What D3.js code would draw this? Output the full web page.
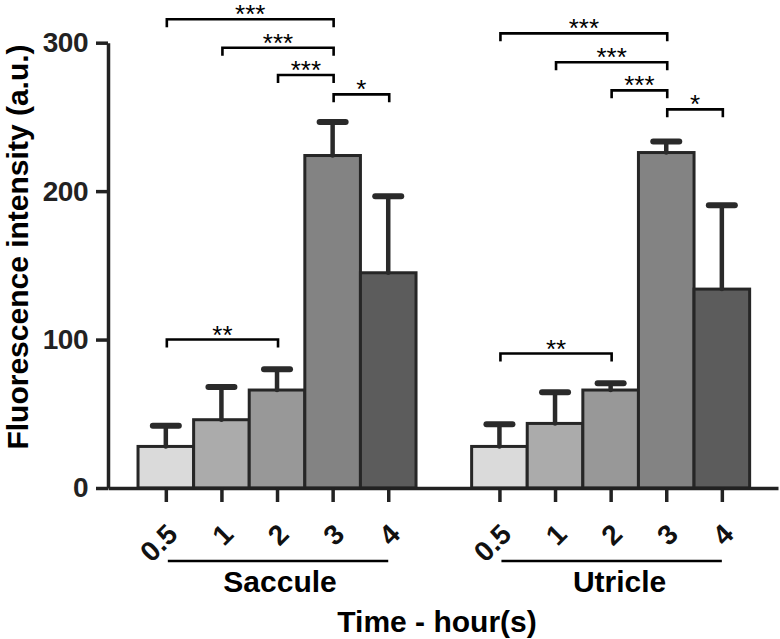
<!DOCTYPE html>
<html>
<head>
<meta charset="utf-8">
<script src="https://cdn.jsdelivr.net/npm/d3@7"></script>
<style>
  body { margin: 0; background: #fff; }
  text { font-family: 'Liberation Sans', Arial, sans-serif; }
</style>
</head>
<body>
<div id="chart"></div>
<script>
const width = 780
const height = 639

// data
const groups = ['Saccule', 'Utricle']
const times = ['0.5', '1', '2', '3', '4']
const sacculeMean = [28, 46, 66, 224, 145]
const sacculeErr = [14, 22, 14, 22.5, 51.5]
const utricleMean = [28, 43.5, 66, 226, 134]
const utricleErr = [15, 21, 4.5, 7.5, 56.5]
const barColors = ['#dadada', '#ababab', '#989898', '#838383', '#5c5c5c']
const yTicks = [0, 100, 200, 300]

// significance brackets: group, from time index, to time index, level, label
const brackets = [
  ['Saccule', 0, 3, 315.8, '***'],
  ['Saccule', 1, 3, 296.6, '***'],
  ['Saccule', 2, 3, 278.2, '***'],
  ['Saccule', 3, 4, 265.2, '*'],
  ['Saccule', 0, 2, 100, '**'],
  ['Utricle', 0, 3, 306.3, '***'],
  ['Utricle', 1, 3, 286.8, '***'],
  ['Utricle', 2, 3, 267.9, '***'],
  ['Utricle', 3, 4, 255.1, '*'],
  ['Utricle', 0, 2, 90.6, '**']
]

const groupOffset = { Saccule: 0, Utricle: 6 }
const labelShift = { Saccule: 3, Utricle: 9 }

const rows = []
groups.forEach(g => {
  const means = g === 'Saccule' ? sacculeMean : utricleMean
  const errs = g === 'Saccule' ? sacculeErr : utricleErr
  times.forEach((t, i) => {
    rows.push({ group: g, time: t, i: i, pos: groupOffset[g] + i, mean: means[i], err: errs[i] })
  })
})

const svg = d3
  .select('#chart')
  .append('svg')
  .attr('width', width)
  .attr('height', height)

const x = d3.scaleLinear().domain([-1.04, 11.01]).range([108, 778])
const y = d3.scaleLinear().domain([0, 300]).range([488, 42.7])
const barW = x(1) - x(0)

// bars
svg
  .selectAll('rect.bar')
  .data(rows)
  .enter()
  .append('rect')
  .attr('class', 'bar')
  .attr('x', d => x(d.pos) - barW / 2)
  .attr('width', barW)
  .attr('y', d => y(d.mean))
  .attr('height', d => y(0) - y(d.mean))
  .attr('fill', d => barColors[d.i])
  .attr('stroke', '#262626')
  .attr('stroke-width', 3)

// error bars
const err = svg.append('g').attr('stroke', '#2a2a2a').attr('stroke-linecap', 'round')
err
  .selectAll('line.stem')
  .data(rows)
  .enter()
  .append('line')
  .attr('x1', d => x(d.pos))
  .attr('x2', d => x(d.pos))
  .attr('y1', d => y(d.mean))
  .attr('y2', d => y(d.mean + d.err))
  .attr('stroke-width', 4.5)
err
  .selectAll('line.cap')
  .data(rows)
  .enter()
  .append('line')
  .attr('x1', d => x(d.pos) - 13)
  .attr('x2', d => x(d.pos) + 13)
  .attr('y1', d => y(d.mean + d.err))
  .attr('y2', d => y(d.mean + d.err))
  .attr('stroke-width', 6)

// y axis
const yAxis = svg
  .append('g')
  .attr('transform', 'translate(108,0)')
  .call(d3.axisLeft(y).tickValues(yTicks).tickSize(12).tickSizeOuter(0).tickPadding(8))
yAxis.select('.domain').attr('stroke', '#222').attr('stroke-width', 3.5)
yAxis.selectAll('.tick line').attr('stroke', '#222').attr('stroke-width', 3.5)
yAxis
  .selectAll('.tick text')
  .attr('fill', '#222')
  .attr('font-size', 28)
  .attr('font-weight', 'bold')
  .attr('font-family', "'Liberation Sans', Arial, sans-serif")
  .attr('letter-spacing', -0.5)

// x axis
const xAxis = svg
  .append('g')
  .attr('transform', 'translate(0,488)')
  .call(
    d3
      .axisBottom(x)
      .tickValues(rows.map(d => d.pos))
      .tickFormat(p => times[p % 6])
      .tickSize(14)
      .tickSizeOuter(0)
  )
xAxis.select('.domain').attr('stroke', '#222').attr('stroke-width', 3.5)
xAxis.selectAll('.tick line').attr('stroke', '#222').attr('stroke-width', 3.5)
xAxis
  .selectAll('.tick text')
  .attr('fill', '#111')
  .attr('font-size', 28)
  .attr('font-weight', 'bold')
  .attr('font-family', "'Liberation Sans', Arial, sans-serif")
  .attr('text-anchor', 'end')
  .attr('dy', null)
  .attr('y', null)
  .attr('transform', 'translate(13,48) rotate(-45)')

// group labels with underline
groups.forEach(g => {
  const x0 = x(groupOffset[g])
  const x1 = x(groupOffset[g] + times.length - 1)
  svg
    .append('line')
    .attr('x1', x0 + 2)
    .attr('x2', x1)
    .attr('y1', 561)
    .attr('y2', 561)
    .attr('stroke', '#000')
    .attr('stroke-width', 2.5)
  svg
    .append('text')
    .attr('x', (x0 + x1) / 2 + labelShift[g])
    .attr('y', 592)
    .attr('text-anchor', 'middle')
    .attr('font-size', 30)
    .attr('font-weight', 'bold')
    .attr('fill', '#000')
    .text(g)
})

// axis titles
svg
  .append('text')
  .attr('x', 437)
  .attr('y', 632)
  .attr('text-anchor', 'middle')
  .attr('font-size', 30)
  .attr('font-weight', 'bold')
  .attr('fill', '#000')
  .text('Time - hour(s)')

svg
  .append('text')
  .attr('transform', 'translate(28,247) rotate(-90)')
  .attr('text-anchor', 'middle')
  .attr('font-size', 30)
  .attr('font-weight', 'bold')
  .attr('fill', '#000')
  .text('Fluorescence intensity (a.u.)')

// significance brackets
const br = svg.selectAll('g.bracket').data(brackets).enter().append('g').attr('class', 'bracket')
br
  .append('path')
  .attr('d', d => {
    const xa = x(groupOffset[d[0]] + d[1]) + 1
    const xb = x(groupOffset[d[0]] + d[2]) + 1
    const ly = y(d[3])
    return `M${xa},${ly + 8}V${ly}H${xb}V${ly + 8}`
  })
  .attr('fill', 'none')
  .attr('stroke', '#000')
  .attr('stroke-width', 2.6)
br
  .append('text')
  .attr('x', d => (x(groupOffset[d[0]] + d[1]) + x(groupOffset[d[0]] + d[2])) / 2 + 1)
  .attr('y', d => y(d[3]) + 4)
  .attr('text-anchor', 'middle')
  .attr('font-size', 26)
  .attr('fill', '#000')
  .text(d => d[4])
</script>
</body>
</html>
